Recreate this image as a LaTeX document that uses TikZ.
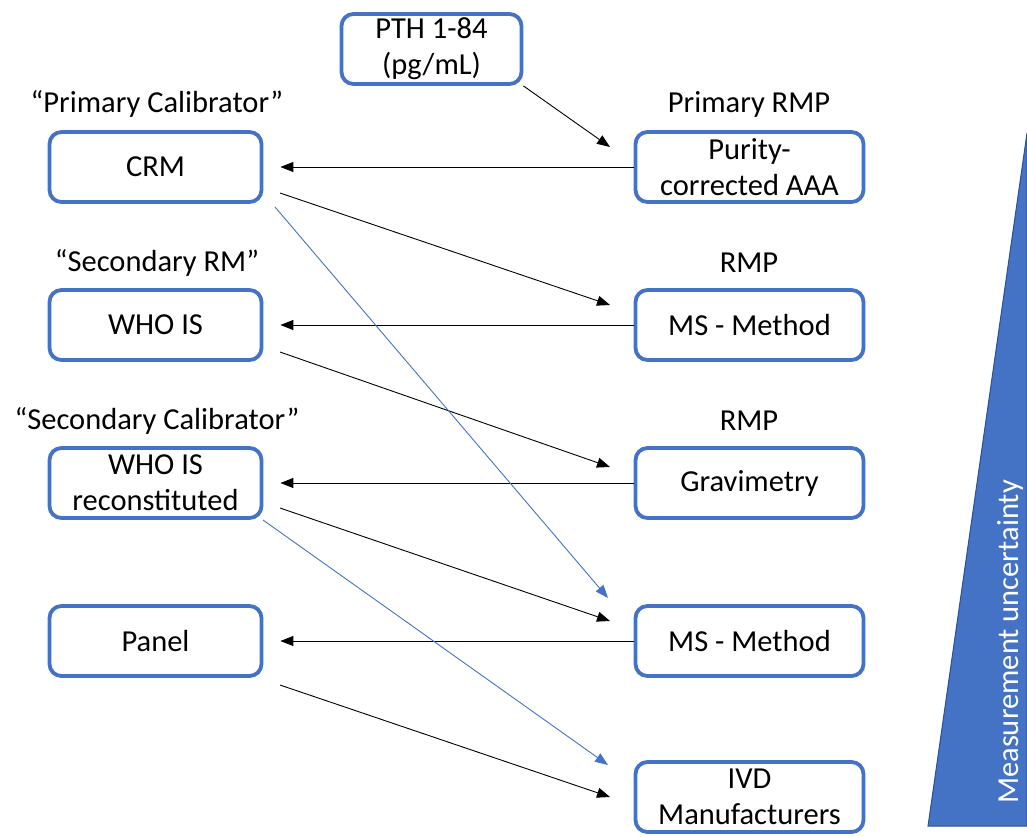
\documentclass[tikz,border=0pt]{standalone}
\usepackage{fontspec}
\setmainfont{Carlito}
\usetikzlibrary{arrows.meta}
\definecolor{boxblue}{HTML}{4472C4}
\definecolor{triedge}{HTML}{2F528F}
\tikzset{
  box/.style={draw=boxblue, line width=3.8pt, rounded corners=12pt, minimum height=70pt, align=center, inner sep=0pt, font=\fontsize{30.5}{36}\selectfont},
  lbox/.style={box, minimum width=212pt},
  rbox/.style={box, minimum width=228pt},
  lab/.style={font=\fontsize{30.5}{36}\selectfont, inner sep=0pt},
  conn/.style={line width=0.9pt, -{Triangle[length=13pt,width=10pt]}},
  bconn/.style={conn, draw=boxblue, -{Triangle[length=13pt,width=10pt]}},
}
\begin{document}
\begin{tikzpicture}[x=1pt,y=-1pt]
\useasboundingbox (0,0) rectangle (1027,836);
% triangle
\path[fill=boxblue, draw=triedge, line width=1pt] (928,826) -- (1027,133) -- (1027,826) -- cycle;
\node[rotate=90, text=white, lab] (mu) at (1010,642) {Measurement uncertainty};
% boxes
\node[box, minimum width=180pt] (pth) at (431.5,49) {PTH 1-84\\(pg/mL)};
\node[lbox] (crm) at (155.5,167) {CRM};
\node[lbox] (who) at (155.5,325) {WHO IS};
\node[lbox] (whor) at (155.5,483) {WHO IS\\reconstituted};
\node[lbox] (panel) at (155.5,641) {Panel};
\node[rbox] (pur) at (749.5,167) {Purity-\\corrected AAA};
\node[rbox] (ms1) at (749.5,325) {MS - Method};
\node[rbox] (grav) at (749.5,483) {Gravimetry};
\node[rbox] (ms2) at (749.5,641) {MS - Method};
\node[rbox] (ivd) at (749.5,797) {IVD\\Manufacturers};
% labels
\node[lab] (l1) at (157,104) {“Primary Calibrator”};
\node[lab] (l2) at (157,263) {“Secondary RM”};
\node[lab] (l3) at (157,421) {“Secondary Calibrator”};
\node[lab] (r1) at (749,104) {Primary RMP};
\node[lab] (r2) at (749,263) {RMP};
\node[lab] (r3) at (749,421) {RMP};
% connector end points
\coordinate (a0) at (610,147);
\coordinate (a1s) at (280,193); \coordinate (a1e) at (610,305);
\coordinate (a2s) at (280,352); \coordinate (a2e) at (610,467);
\coordinate (a3s) at (280,508); \coordinate (a3e) at (610,621);
\coordinate (a4s) at (280,685); \coordinate (a4e) at (610,797);
\coordinate (b1s) at (275,207); \coordinate (b1e) at (608,598);
\coordinate (b2s) at (263,520); \coordinate (b2e) at (608,765);
% connectors
\draw[conn] (pth.south east) -- (a0);
\draw[conn, shorten >=17pt] (pur.west) -- (crm.east);
\draw[conn, shorten >=17pt] (ms1.west) -- (who.east);
\draw[conn, shorten >=17pt] (grav.west) -- (whor.east);
\draw[conn, shorten >=17pt] (ms2.west) -- (panel.east);
\draw[conn] (a1s) -- (a1e);
\draw[conn] (a2s) -- (a2e);
\draw[conn] (a3s) -- (a3e);
\draw[conn] (a4s) -- (a4e);
\draw[bconn] (b1s) -- (b1e);
\draw[bconn] (b2s) -- (b2e);
\end{tikzpicture}
\end{document}
